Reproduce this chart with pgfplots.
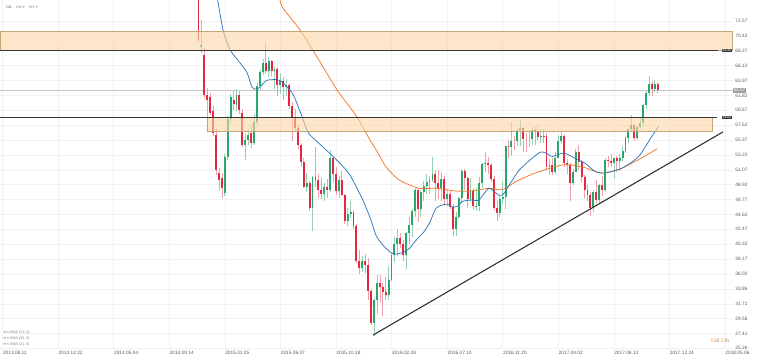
\documentclass[border=0pt]{standalone}
\usepackage{pgfplots}
\pgfplotsset{compat=1.18}
\usepackage{pgfplotstable}
\usepackage{fontspec}
\setmainfont{Liberation Sans}
\newfontfamily\dejavu{DejaVu Sans}
\definecolor{bull}{RGB}{40,167,106}
\definecolor{bear}{RGB}{229,39,63}
\definecolor{bullw}{RGB}{150,208,178}
\definecolor{bearw}{RGB}{240,160,170}
\definecolor{emablue}{RGB}{45,120,190}
\definecolor{emaorange}{RGB}{240,120,40}
\definecolor{zonefill}{RGB}{252,214,165}
\definecolor{zoneedge}{RGB}{200,165,120}
\definecolor{gridc}{RGB}{242,242,242}
\definecolor{labc}{RGB}{90,90,90}
\definecolor{lvl}{RGB}{55,55,55}

\pgfplotstableread{
w o h l c
67 80.0 80.6 69.6 69.8
68 68.8 72.7 67.9 69.1
69 67.7 68.6 61.4 61.9
70 61.9 62.9 58.6 61.2
71 61.6 62.2 59.0 59.3
72 59.6 60.3 56.0 56.4
73 56.1 56.9 50.3 51.0
74 50.6 51.3 48.0 49.6
75 49.9 50.6 47.0 48.4
76 47.7 53.4 47.3 52.9
77 52.9 58.9 52.5 58.4
78 58.4 62.0 57.6 61.6
79 61.2 62.6 59.7 60.6
80 60.5 62.8 59.5 61.9
81 61.9 62.4 59.2 59.7
82 59.3 59.8 54.3 54.6
83 54.6 56.2 52.5 55.3
84 55.3 57.0 54.6 56.1
85 56.4 57.5 54.2 55.0
86 55.0 59.2 54.6 57.9
87 57.9 63.6 57.5 63.2
88 63.2 65.5 62.6 65.2
89 65.2 67.1 64.8 66.5
90 66.5 69.4 64.9 65.4
91 65.4 67.4 64.5 66.8
92 66.8 67.0 64.6 65.4
93 65.4 65.9 62.7 65.6
94 65.6 65.9 61.8 63.3
95 63.3 65.1 62.0 63.9
96 63.9 64.5 61.2 63.0
97 63.0 64.2 61.8 63.3
98 63.3 63.6 59.9 60.3
99 60.3 60.8 55.2 58.7
100 58.7 59.8 56.6 57.1
101 57.1 57.5 54.1 54.6
102 54.6 55.0 51.5 52.2
103 52.2 52.8 48.5 48.6
104 48.6 50.6 47.9 49.2
105 49.2 49.5 45.1 45.5
106 45.5 50.2 42.2 50.0
107 50.0 54.3 48.6 49.6
108 49.6 50.5 47.0 48.1
109 48.1 49.9 46.9 47.5
110 47.5 49.2 46.5 48.6
111 48.6 49.8 47.0 48.1
112 48.1 53.9 47.9 52.7
113 52.7 53.1 49.3 50.5
114 50.5 51.4 47.4 48.0
115 48.0 50.1 47.0 49.6
116 49.6 50.9 47.3 47.4
117 47.4 47.6 43.3 43.6
118 43.6 45.6 42.9 44.7
119 44.7 46.5 44.1 44.9
120 44.9 45.2 42.5 43.0
121 43.0 43.3 37.6 37.9
122 37.9 39.5 36.0 36.9
123 36.9 38.6 36.3 37.9
124 37.9 38.9 36.2 37.3
125 37.3 38.3 32.2 33.6
126 33.6 33.8 28.6 28.9
127 28.9 32.6 27.0 32.2
128 32.2 35.8 30.3 34.7
129 34.7 35.8 32.0 34.1
130 34.1 34.7 30.0 33.4
131 33.4 35.6 32.3 33.0
132 33.0 37.2 32.2 35.1
133 35.1 39.1 35.0 38.7
134 38.7 41.3 37.8 40.4
135 40.4 42.5 38.6 41.2
136 41.2 42.0 39.7 40.4
137 40.4 40.9 37.9 38.7
138 38.7 42.1 36.8 41.9
139 41.9 44.2 40.4 43.1
140 43.1 45.4 41.3 45.1
141 45.1 48.5 44.3 48.1
142 48.1 48.4 43.5 45.4
143 45.4 48.1 44.3 47.8
144 47.8 49.4 46.6 48.7
145 48.7 50.5 47.6 49.3
146 49.3 50.1 47.6 49.6
147 49.6 52.9 49.3 50.5
148 50.5 51.1 46.6 49.2
149 49.2 51.0 46.8 48.4
150 48.4 50.8 46.6 49.7
151 49.7 50.2 45.9 46.8
152 46.8 48.1 45.9 47.6
153 47.6 48.0 45.4 45.7
154 45.7 46.1 41.5 42.5
155 42.5 44.9 41.5 44.3
156 44.3 47.2 43.9 47.0
157 47.0 51.2 46.2 50.9
158 50.9 51.2 48.1 49.9
159 49.9 50.0 45.5 46.8
160 46.8 49.9 46.4 48.0
161 48.0 48.4 45.3 45.8
162 45.8 48.5 45.1 45.9
163 45.9 50.0 45.1 49.2
164 49.2 52.1 48.5 51.9
165 51.9 53.7 50.7 52.0
166 52.0 52.9 50.5 51.8
167 51.8 52.0 49.3 49.7
168 49.7 50.2 45.3 45.6
169 45.6 46.7 43.6 44.8
170 44.8 47.3 44.2 46.9
171 46.9 49.4 46.1 47.2
172 47.2 54.5 45.4 54.5
173 54.5 55.3 52.8 54.3
174 54.3 57.9 53.1 55.2
175 55.2 55.9 53.9 55.2
176 55.2 56.9 54.5 56.8
177 56.8 58.4 54.5 57.1
178 57.1 57.3 53.6 55.5
179 55.5 56.4 53.6 55.5
180 55.5 56.8 54.3 55.5
181 55.5 57.2 54.7 56.8
182 56.8 57.3 54.6 56.7
183 56.7 57.5 55.3 55.8
184 55.8 57.0 55.0 56.0
185 56.0 57.0 55.0 55.9
186 55.9 56.4 51.0 51.4
187 51.4 52.6 50.3 51.8
188 51.8 52.8 50.3 50.8
189 50.8 53.7 50.4 52.8
190 52.8 56.1 52.7 55.2
191 55.2 56.6 55.0 55.9
192 55.9 56.2 51.5 52.0
193 52.0 52.6 50.5 51.7
194 51.7 52.0 46.6 49.1
195 49.1 51.2 48.9 50.8
196 50.8 54.0 50.7 53.6
197 53.6 54.7 51.0 52.2
198 52.2 52.5 49.3 50.0
199 50.0 50.3 47.0 48.2
200 48.2 48.9 46.6 47.4
201 47.4 47.9 44.4 45.5
202 45.5 48.1 45.0 47.9
203 47.9 49.6 46.3 46.7
204 46.7 49.0 46.3 48.9
205 48.9 50.1 47.3 48.1
206 48.1 52.7 47.9 52.5
207 52.5 53.0 51.4 52.4
208 52.4 53.4 51.4 52.1
209 52.1 52.8 49.7 52.7
210 52.7 53.1 50.7 52.4
211 52.4 53.4 50.9 52.8
212 52.8 54.5 52.3 53.8
213 53.8 55.9 53.5 55.6
214 55.6 57.1 54.9 56.9
215 56.9 59.0 56.5 57.5
216 57.5 57.6 55.2 55.6
217 55.6 57.4 55.3 57.2
218 57.2 58.5 56.9 57.8
219 57.8 60.6 57.4 60.4
220 60.4 62.4 59.8 62.1
221 62.1 64.6 61.8 63.4
222 63.4 63.9 61.7 62.7
223 62.7 64.1 62.3 63.4
224 63.4 63.7 62.1 62.57
}\candles

\pgfplotstableread{
w p
73.0 77.0
75.4 71.3
77.8 68.4
80.5 66.9
83.6 65.1
85.3 63.0
87.0 62.7
88.6 63.3
90.4 64.0
93.8 64.1
95.5 63.8
96.9 63.2
99.3 62.0
102.1 59.1
104.4 56.5
107.4 55.2
112.0 53.4
115.4 52.0
118.8 50.3
123.2 46.7
125.8 44.0
127.7 41.6
130.0 40.2
132.8 39.1
134.5 38.9
136.8 39.1
139.1 39.7
141.4 40.9
143.7 41.9
145.9 43.3
148.2 45.5
150.5 46.0
152.2 46.1
153.9 45.7
155.6 45.8
157.3 46.5
160.2 46.7
162.9 46.7
166.3 48.4
169.7 47.4
171.5 47.7
176.6 51.0
183.4 53.5
185.7 53.5
188.0 53.0
191.9 53.5
195.8 52.7
199.2 52.0
202.7 50.8
206.1 50.6
211.8 51.3
217.5 53.0
222.0 55.9
224.3 57.3
}\emaA

\pgfplotstableread{
w p
94.5 76.5
95.6 74.6
101.7 71.3
108.5 66.7
114.4 62.6
121.2 58.7
125.6 55.4
128.4 53.5
131.1 51.5
135.6 49.6
142.4 48.4
148.2 48.4
155.0 48.0
160.2 48.0
166.3 48.4
170.8 48.2
176.6 49.6
183.4 50.8
191.9 51.8
198.1 51.5
204.9 50.6
211.8 51.3
218.6 52.8
223.8 54.1
}\emaB

\begin{document}
\begin{tikzpicture}
\useasboundingbox (0,0) rectangle (760pt,360pt);
\begin{axis}[
  at={(0pt,11.2pt)}, anchor=south west,
  scale only axis, width=733pt, height=348.8pt,
  xmin=-0.855, xmax=249.75, ymin=25.2, ymax=75.6,
  axis line style={draw=none}, tick style={draw=none},
  grid=major, major grid style={gridc, line width=0.5pt},
  xtick={0,19,...,247},
  xticklabels={2013.08.11,2013.12.22,2014.05.04,2014.09.14,2015.01.25,2015.06.07,2015.10.18,2016.02.28,2016.07.10,2016.11.20,2017.04.02,2017.08.13,2017.12.24,2018.05.06},
  ytick={25.26,27.41,29.56,31.71,33.86,36.02,38.17,40.32,42.47,44.62,46.77,48.92,51.07,53.22,55.37,57.52,59.67,61.82,63.97,66.12,68.27,70.42,72.57},
  yticklabels={\raisebox{2pt}{25.26},27.41,29.56,31.71,33.86,36.02,38.17,40.32,42.47,44.62,46.77,48.92,51.07,53.22,55.37,57.52,59.67,61.82,63.97,66.12,68.27,70.42,72.57},
  yticklabel pos=right,
  xticklabel style={anchor=north west, inner sep=0pt, yshift=-1.8pt, xshift=0.3pt, font=\fontsize{4.8}{5}\selectfont, text=labc},
  yticklabel style={anchor=west, inner sep=0pt, xshift=2.2pt, font=\fontsize{4.8}{5}\selectfont, text=labc},
  clip mode=individual, unbounded coords=discard,
]
% current price line
\addplot[draw=black!22, line width=0.6pt] coordinates {(-0.855,62.57) (249.75,62.57)};
% wicks
\addplot[draw=bullw, line width=0.6pt, quiver={u=0, v=\thisrow{h}-\thisrow{l}},
  restrict expr to domain={\thisrow{c}-\thisrow{o}}{0:100}] table[x=w, y=l] {\candles};
\addplot[draw=bearw, line width=0.6pt, quiver={u=0, v=\thisrow{h}-\thisrow{l}},
  restrict expr to domain={\thisrow{c}-\thisrow{o}}{-100:0}] table[x=w, y=l] {\candles};
% bodies
\addplot[draw=bull, line width=1.9pt, quiver={u=0, v=\thisrow{c}-\thisrow{o}},
  restrict expr to domain={\thisrow{c}-\thisrow{o}}{0:100}] table[x=w, y=o] {\candles};
\addplot[draw=bear, line width=1.9pt, quiver={u=0, v=\thisrow{c}-\thisrow{o}},
  restrict expr to domain={\thisrow{c}-\thisrow{o}}{-100:0}] table[x=w, y=o] {\candles};
% EMAs
\addplot[draw=emaorange, line width=0.75pt, smooth, tension=0.4] table[x=w, y=p] {\emaB};
\addplot[draw=emablue, line width=0.75pt, smooth, tension=0.4] table[x=w, y=p] {\emaA};
% zones
\addplot[fill=zonefill, fill opacity=0.6, draw=zoneedge, line width=0.6pt] coordinates {(-0.855,68.30) (249.4,68.30) (249.4,71.12) (-0.855,71.12)} -- cycle;
\addplot[fill=zonefill, fill opacity=0.6, draw=zoneedge, line width=0.6pt] coordinates {(69.9,56.63) (242.6,56.63) (242.6,58.62) (69.9,58.62)} -- cycle;
% levels
\addplot[draw=lvl, line width=1.1pt] coordinates {(-0.855,68.30) (244.6,68.30)};
\addplot[draw=lvl, line width=1.1pt] coordinates {(-0.855,58.62) (244.3,58.62)};
% trend line
\addplot[draw=black!80, line width=1.1pt] coordinates {(126.7,27.19) (246.3,56.53)};

% labels
\node[fill=lvl, text=white, inner sep=0.6pt, anchor=east, font=\fontsize{3.4}{4}\selectfont] at (axis cs:249.4,68.30) {68.40};
\node[fill=lvl, text=white, inner sep=0.6pt, anchor=east, font=\fontsize{3.4}{4}\selectfont] at (axis cs:249.4,58.62) {58.60};
\node[fill=black!38, text=white, inner sep=0.9pt, anchor=west, font=\fontsize{4.6}{5}\selectfont] at (axis cs:249.6,62.57) {62.57};
\node[anchor=west, inner sep=0pt, font=\fontsize{3.8}{4}\selectfont, text=black!60] at (axis cs:1.2,74.55) {OIL\hspace{4pt}{\color{black!45}Bid \dejavu▾}\hspace{4pt}{\color{black!45}W1 \dejavu▾}};
\node[anchor=west, inner sep=0pt, font=\fontsize{3.6}{4}\selectfont, text=black!50] at (axis cs:0.2,27.58) {{\dejavu≡×} EMA (21, 0)};
\node[anchor=west, inner sep=0pt, font=\fontsize{3.6}{4}\selectfont, text=black!50] at (axis cs:0.2,26.72) {{\dejavu≡×} EMA (55, 0)};
\node[anchor=west, inner sep=0pt, font=\fontsize{3.6}{4}\selectfont, text=black!50] at (axis cs:0.2,25.85) {{\dejavu≡×} EMA (21, 0)};
\node[anchor=east, inner sep=0pt, font=\fontsize{5}{6}\selectfont, text=black!50] at (axis cs:248.4,26.33) {{\color{orange!80}02}d {\color{orange!80}15}h};
\end{axis}
\end{tikzpicture}
\end{document}
